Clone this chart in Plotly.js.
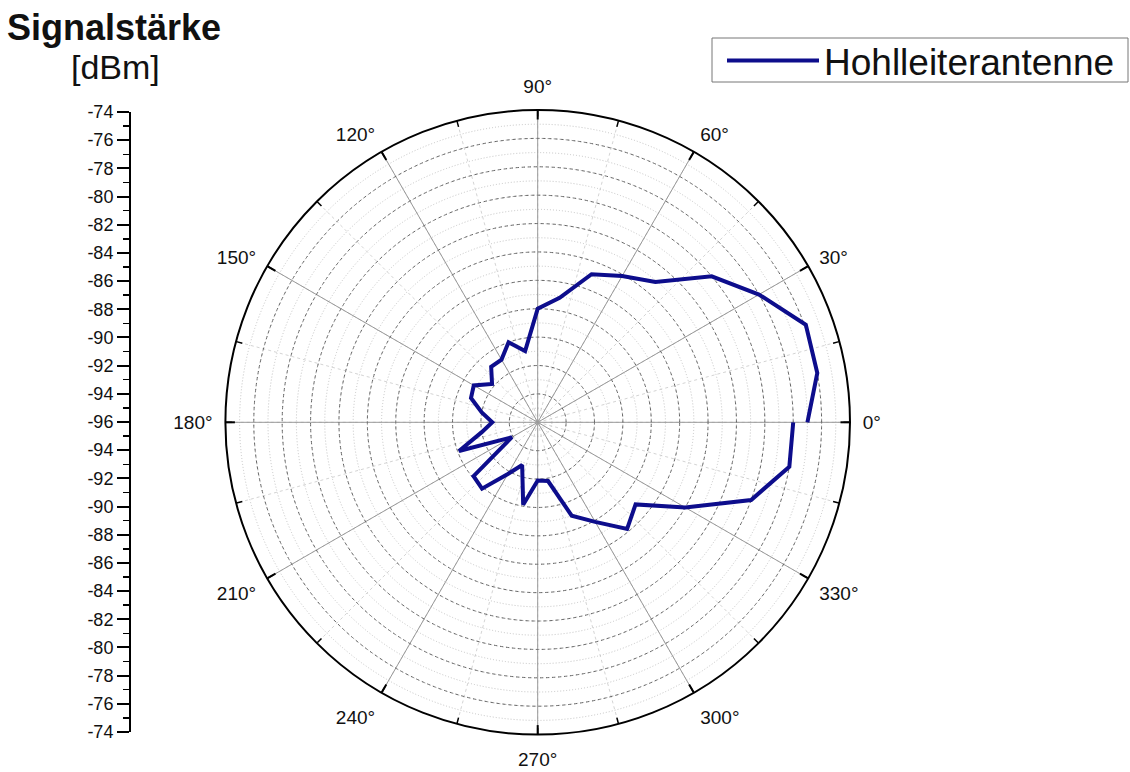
<!DOCTYPE html>
<html><head><meta charset="utf-8">
<script src="https://cdn.plot.ly/plotly-3.0.1.min.js"></script>
<style>html,body{margin:0;padding:0;background:#fff;}#chart{width:1130px;height:772px;}</style>
</head><body><div id="chart"></div>
<script>
// ---- data ----
const seriesName = 'Hohlleiterantenne';
const angles = [0,10,20,30,40,50,60,70,80,90,100,110,120,130,140,150,160,170,180,
                190,200,210,220,230,240,250,260,270,280,290,300,310,320,330,340,350,360];
const signal = [-77.0,-76.0,-75.9,-78.0,-80.0,-83.1,-84.1,-84.9,-87.1,-88.0,-90.9,-90.0,-90.9,-90.9,-91.8,-90.8,-91.0,-92.0,-92.8,
                -92.0,-90.1,-93.9,-90.1,-89.9,-91.8,-92.8,-90.1,-91.9,-91.8,-89.0,-87.9,-86.2,-87.0,-84.0,-80.0,-78.0,-78.0];
const scaleLabels = ['-74','-76','-78','-80','-82','-84','-86','-88','-90','-92','-94','-96',
                     '-94','-92','-90','-88','-86','-84','-82','-80','-78','-76','-74'];
const rMin = -96, rMax = -74;
const titleText = 'Signalstärke';
const unitText = '[dBm]';

// ---- layout helpers ----
const W = 1130, H = 772;
const FONT = 'Liberation Sans, Arial, Helvetica, sans-serif';
const half = (scaleLabels.length - 1) / 2;
const span = rMax - rMin;
const scaleVals = scaleLabels.map((_, i) => (i - half) * (span / half));
const minorVals = [];
for (let v = -span; v <= span + 1e-9; v += 1) minorVals.push(v);

const dom = {x: [225.4 / W, 850 / W], y: [1 - 734.6 / H, 1 - 110 / H]};

const data = [
  {type: 'scatterpolar', subplot: 'polar', r: [rMin], theta: [0], mode: 'markers',
   marker: {opacity: 0}, showlegend: false, hoverinfo: 'skip'},
  {type: 'scatterpolar', subplot: 'polar2', r: [rMin], theta: [0], mode: 'markers',
   marker: {opacity: 0}, showlegend: false, hoverinfo: 'skip'},
  {type: 'scatter', xaxis: 'x', yaxis: 'y', x: [0], y: [0], mode: 'markers',
   marker: {opacity: 0}, showlegend: false, hoverinfo: 'skip'},
  {type: 'scatterpolar', subplot: 'polar3', r: signal, theta: angles, mode: 'lines',
   name: seriesName, line: {color: '#0d0d8c', width: 4}}
];

const clear = 'rgba(0,0,0,0)';
const layout = {
  width: W, height: H,
  margin: {l: 0, r: 0, t: 0, b: 0},
  paper_bgcolor: '#fff',
  font: {family: FONT, color: '#111'},
  showlegend: true,
  legend: {x: 722 / W, y: 1 - 61 / H, xanchor: 'left', yanchor: 'middle',
           borderwidth: 0, bgcolor: clear,
           font: {size: 37, family: FONT, color: '#111'}, itemwidth: 92},
  shapes: [
    {type: 'rect', xref: 'paper', yref: 'paper', x0: 712 / W, x1: 1128 / W, y0: 1 - 82 / H, y1: 1 - 38 / H,
     line: {color: '#777', width: 1}, fillcolor: clear, layer: 'below'}
  ],
  polar: {
    domain: dom, bgcolor: '#fff',
    radialaxis: {range: [rMin, rMax], tick0: rMin, dtick: 1, showticklabels: false, ticks: '',
                 showline: false, gridcolor: '#c4c4c4', griddash: '1px,2px', gridwidth: 1},
    angularaxis: {rotation: 0, direction: 'counterclockwise', tick0: 0, dtick: 15,
                  showticklabels: false, ticks: 'inside', ticklen: 6, tickwidth: 1.5, tickcolor: '#000',
                  showline: false, gridcolor: '#d4d4d4', griddash: 'dot', gridwidth: 1}
  },
  polar2: {
    domain: dom, bgcolor: clear,
    radialaxis: {range: [rMin, rMax], tick0: rMin, dtick: 2, showticklabels: false, ticks: '',
                 showline: false, gridcolor: '#666', griddash: '3px,3px', gridwidth: 1},
    angularaxis: {rotation: 0, direction: 'counterclockwise', tick0: 0, dtick: 30,
                  showticklabels: false, ticks: 'inside', ticklen: 9, tickwidth: 2, tickcolor: '#000',
                  showline: false, gridcolor: '#999', gridwidth: 1}
  },
  polar3: {
    domain: dom, bgcolor: clear,
    radialaxis: {range: [rMin, rMax], showticklabels: false, ticks: '', showline: false, showgrid: false},
    angularaxis: {rotation: 0, direction: 'counterclockwise', tick0: 0, dtick: 30,
                  ticks: 'outside', ticklen: 8, tickcolor: clear, ticksuffix: '°',
                  showline: true, linecolor: '#000', linewidth: 2, showgrid: false,
                  tickfont: {size: 19, family: FONT, color: '#111'}}
  },
  xaxis: {domain: [131 / W, 132 / W], range: [0, 1], visible: false, fixedrange: true},
  yaxis: {domain: [1 - 732 / H, 1 - 112 / H], range: [-span, span], anchor: 'x', side: 'left',
          showline: true, linecolor: '#000', linewidth: 2, showgrid: false, zeroline: false,
          tickmode: 'array', tickvals: scaleVals, ticktext: scaleLabels,
          ticks: 'outside', ticklen: 12, tickwidth: 2, tickcolor: '#000',
          tickfont: {size: 18, family: FONT, color: '#111'},
          minor: {tickmode: 'array', tickvals: minorVals, ticks: 'outside', ticklen: 6, tickwidth: 1.5, tickcolor: '#000'},
          fixedrange: true},
  annotations: [
    {text: '<b>' + titleText + '</b>', xref: 'paper', yref: 'paper', x: 5 / W, y: 1 - 5 / H,
     xanchor: 'left', yanchor: 'top', showarrow: false, font: {size: 36, family: FONT, color: '#111'}},
    {text: unitText, xref: 'paper', yref: 'paper', x: 69 / W, y: 1 - 46 / H,
     xanchor: 'left', yanchor: 'top', showarrow: false, font: {size: 34, family: FONT, color: '#111'}}
  ]
};

Plotly.newPlot('chart', data, layout, {displayModeBar: false, staticPlot: true});
</script>
</body></html>
